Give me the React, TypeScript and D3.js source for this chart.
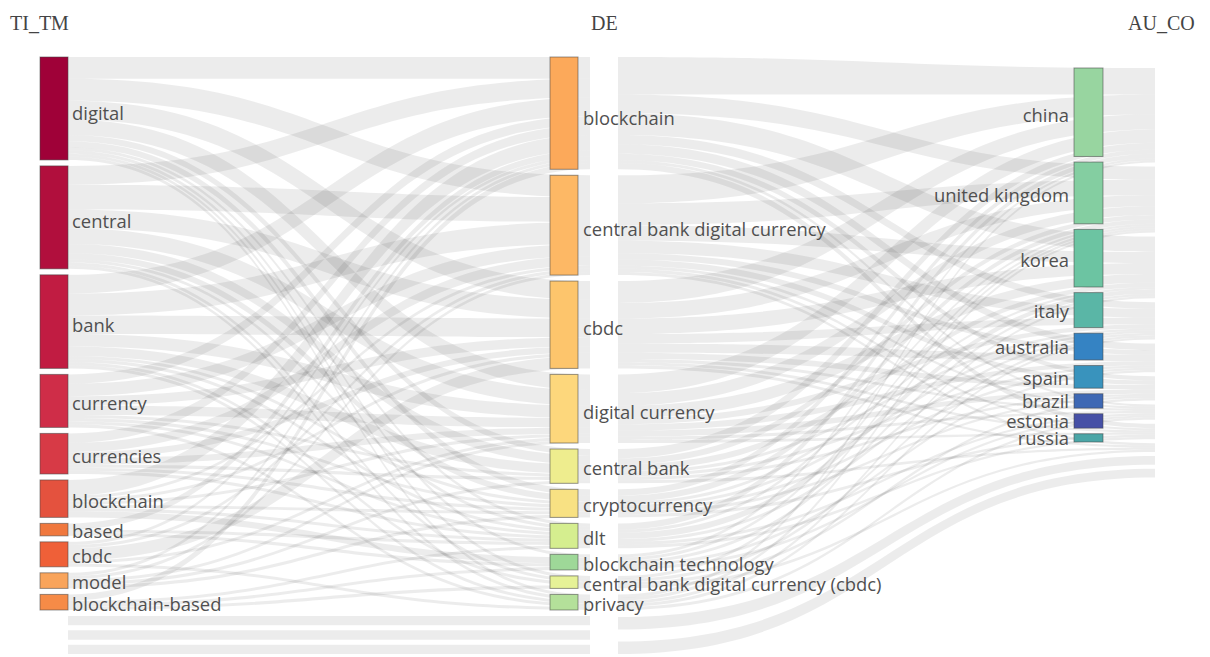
import React from "react";
import * as d3 from "d3";

// ---------- DATA ----------
const leftNodes = ["digital", "central", "bank", "currency", "currencies", "blockchain", "based", "cbdc", "model", "blockchain-based"];
const midNodes = [
  "blockchain",
  "central bank digital currency",
  "cbdc",
  "digital currency",
  "central bank",
  "cryptocurrency",
  "dlt",
  "blockchain technology",
  "central bank digital currency (cbdc)",
  "privacy",
];
const rightNodes = ["china", "united kingdom", "korea", "italy", "australia", "spain", "brazil", "estonia", "russia"];

const leftColors = ["#9f0138", "#b10f3d", "#c11c42", "#cf2d48", "#d73a46", "#e4523e", "#f0783e", "#ef6038", "#f9a45b", "#f68b47"];
const midColors = ["#fca95a", "#fdb865", "#fdc56c", "#fdd77c", "#eeed8e", "#f8e183", "#d5ee8f", "#9ed898", "#e6f297", "#b4e09a"];
const rightColors = ["#98d5a0", "#84cea1", "#6cc4a2", "#5ab6a6", "#3583c3", "#3993bd", "#3e68b4", "#4650a6", "#4ba6a7"];

const fieldTitles = ["TI_TM", "DE", "AU_CO"];

// rows: leftNodes, cols: midNodes
const leftMidValues = [
  [7, 7, 6, 5, 2, 2, 1, 1, 1, 1],
  [6, 8, 6, 5, 3, 2, 1, 0, 1, 1],
  [6, 7, 6, 4, 3, 1, 1, 0, 1, 1],
  [3, 4, 3, 3, 1, 1, 1, 0, 0, 1],
  [3, 3, 2, 2, 1, 1, 1, 0, 0, 0],
  [5, 1, 1, 1, 0, 1, 1, 2, 0, 0],
  [2, 0, 0, 0, 0, 0, 1, 1, 0, 0],
  [1, 1, 4, 1, 0, 0, 0, 0, 0, 1],
  [1, 1, 0, 1, 1, 1, 0, 0, 0, 0],
  [2, 0, 0, 0, 0, 0, 1, 1, 1, 0],
];

// rows: midNodes, cols: rightNodes
const midRightValues = [
  [12, 6, 7, 3, 3, 2, 1, 2, 0],
  [9, 7, 5, 4, 2, 2, 1, 1, 1],
  [7, 5, 5, 3, 3, 2, 1, 1, 1],
  [6, 4, 4, 2, 2, 2, 1, 1, 0],
  [3, 2, 2, 1, 1, 1, 0, 0, 1],
  [2, 2, 1, 1, 1, 1, 0, 1, 0],
  [2, 1, 2, 1, 0, 0, 1, 1, 0],
  [1, 1, 1, 0, 1, 0, 1, 0, 0],
  [0, 1, 0, 1, 0, 1, 0, 0, 1],
  [1, 1, 1, 1, 0, 0, 1, 0, 0],
];

// flows of the remaining (unlabelled) items below the shown nodes
const hiddenLeftMid = [3, 3, 3];
const hiddenMidRight = [4, 4];

// ---------- LAYOUT ----------
const W = 1210;
const H = 657;

const rowSums = (m: number[][]) => m.map((r) => d3.sum(r));
const colSums = (m: number[][]) => m[0].map((_, j) => d3.sum(m, (r) => r[j]));

const leftVals = rowSums(leftMidValues);
const midVals = colSums(leftMidValues);
const rightVals = colSums(midRightValues);

const TOP = 57;
const BOTTOM = 610;
const GAP = 6;
const total = d3.sum(leftVals);
const k = (BOTTOM - TOP - GAP * (leftVals.length - 1)) / total;
const yScale = d3.scaleLinear().domain([0, total]).range([0, k * total]);

const AU_TOP = 68;
const AU_BOTTOM = 442;
const AU_GAP = 5.6;
const auTotal = d3.sum(rightVals);
const auScale = d3
  .scaleLinear()
  .domain([0, auTotal])
  .range([0, AU_BOTTOM - AU_TOP - AU_GAP * (rightVals.length - 1)]);
const endScale = d3.scaleLinear().domain([0, 1]).range([0, 2.2]);
const END_GAP = 4;

const xL = { x0: 40, x1: 68 };
const xM = { x0: 550, x1: 578 };
const xR = { x0: 1074, x1: 1103 };
const linkL = { x0: 68, x1: 590 };
const linkR = { x0: 618, x1: 1155 };

function stack(values: number[], top: number, gap: number, s: (v: number) => number) {
  let y = top;
  return values.map((v) => {
    const h = s(v);
    const r = { y0: y, y1: y + h };
    y += h + gap;
    return r;
  });
}

function band(x0: number, x1: number, s0: number, s1: number, t0: number, t1: number) {
  const xm = (x0 + x1) / 2;
  const p = d3.path();
  p.moveTo(x0, s0);
  p.bezierCurveTo(xm, s0, xm, t0, x1, t0);
  p.lineTo(x1, t1);
  p.bezierCurveTo(xm, t1, xm, s1, x0, s1);
  p.closePath();
  return p.toString();
}

function buildLinks(
  m: number[][],
  src: { y0: number }[],
  tgt: { y0: number }[],
  sScale: (v: number) => number,
  tScale: (v: number) => number,
  x0: number,
  x1: number
) {
  const sOff = src.map((n) => n.y0);
  const tOff = tgt.map((n) => n.y0);
  const out: { d: string; key: string }[] = [];
  const srcPos: number[][] = m.map((row, i) =>
    row.map((v) => {
      const y = sOff[i];
      sOff[i] += sScale(v);
      return y;
    })
  );
  const tgtPos: number[][] = m.map(() => []);
  for (let j = 0; j < m[0].length; j++) {
    for (let i = 0; i < m.length; i++) {
      tgtPos[i][j] = tOff[j];
      tOff[j] += tScale(m[i][j]);
    }
  }
  m.forEach((row, i) =>
    row.forEach((v, j) => {
      if (v <= 0) return;
      const s0 = srcPos[i][j];
      const t0 = tgtPos[i][j];
      out.push({ key: `${x0}-${i}-${j}`, d: band(x0, x1, s0, s0 + sScale(v), t0, t0 + tScale(v)) });
    })
  );
  return out;
}

const leftPos = stack(leftVals, TOP, GAP, yScale);
const midPos = stack(midVals, TOP, GAP, yScale);
const rightPos = stack(rightVals, AU_TOP, AU_GAP, auScale);
const endPos = stack(rightVals, AU_TOP, END_GAP, endScale);

const links = [
  ...buildLinks(leftMidValues, leftPos, midPos, yScale, yScale, linkL.x0, linkL.x1),
  ...buildLinks(midRightValues, midPos, endPos, yScale, endScale, linkR.x0, linkR.x1),
];

// hidden trailing flows (separate unlabelled items, each with its own gap)
const hiddenLinks: string[] = [];
{
  const hl = stack(hiddenLeftMid, leftPos[leftPos.length - 1].y1 + GAP, GAP - 1, yScale);
  const hm = stack(hiddenLeftMid, midPos[midPos.length - 1].y1 + GAP, GAP - 1, yScale);
  hl.forEach((p, i) => hiddenLinks.push(band(linkL.x0, linkL.x1, p.y0, p.y1, hm[i].y0, hm[i].y1)));
  const hs = stack(hiddenMidRight, midPos[midPos.length - 1].y1 + GAP + 1, GAP + 6, yScale);
  const he = stack(hiddenMidRight, endPos[endPos.length - 1].y1 + END_GAP, END_GAP, endScale);
  hs.forEach((p, i) => hiddenLinks.push(band(linkR.x0, linkR.x1, p.y0, p.y1, he[i].y0, he[i].y1)));
}

const labelFont = "'Open Sans', 'DejaVu Sans', sans-serif";
// labels of taller nodes sit slightly lower, as in the original rendering
const labelY = (p: { y0: number; y1: number }) => (p.y0 + p.y1) / 2 + 8 + 0.03 * (p.y1 - p.y0);

export default function App() {
  const nodeStroke = "rgba(70,70,70,0.55)";
  return (
    <div style={{ position: "absolute", left: 0, top: 0 }}>
      <svg width={W} height={H} style={{ display: "block", background: "#fff" }}>
        <g>
          {links.map((l) => (
            <path key={l.key} d={l.d} fill="#000" fillOpacity={0.075} />
          ))}
          {hiddenLinks.map((d, i) => (
            <path key={"h" + i} d={d} fill="#000" fillOpacity={0.075} />
          ))}
        </g>
        <g>
          {leftPos.map((p, i) => (
            <rect key={"l" + i} x={xL.x0} y={p.y0} width={xL.x1 - xL.x0} height={p.y1 - p.y0} fill={leftColors[i]} stroke={nodeStroke} strokeWidth={1} />
          ))}
          {midPos.map((p, i) => (
            <rect key={"m" + i} x={xM.x0} y={p.y0} width={xM.x1 - xM.x0} height={p.y1 - p.y0} fill={midColors[i]} stroke={nodeStroke} strokeWidth={1} />
          ))}
          {rightPos.map((p, i) => (
            <rect key={"r" + i} x={xR.x0} y={p.y0} width={xR.x1 - xR.x0} height={p.y1 - p.y0} fill={rightColors[i]} stroke={nodeStroke} strokeWidth={1} />
          ))}
        </g>
        <g fontFamily={labelFont} fontSize={18.4} fill="#505050">
          {leftPos.map((p, i) => (
            <text key={"lt" + i} x={xL.x1 + 4} y={labelY(p)}>
              {leftNodes[i]}
            </text>
          ))}
          {midPos.map((p, i) => (
            <text key={"mt" + i} x={xM.x1 + 5} y={labelY(p)}>
              {midNodes[i]}
            </text>
          ))}
          {rightPos.map((p, i) => (
            <text key={"rt" + i} x={xR.x0 - 5} y={labelY(p) - 1} textAnchor="end">
              {rightNodes[i]}
            </text>
          ))}
        </g>
        <g fontFamily="'Liberation Serif', 'Times New Roman', serif" fontSize={20} fill="#444">
          <text x={10} y={30}>{fieldTitles[0]}</text>
          <text x={591} y={30}>{fieldTitles[1]}</text>
          <text x={1128} y={30}>{fieldTitles[2]}</text>
        </g>
      </svg>
    </div>
  );
}
